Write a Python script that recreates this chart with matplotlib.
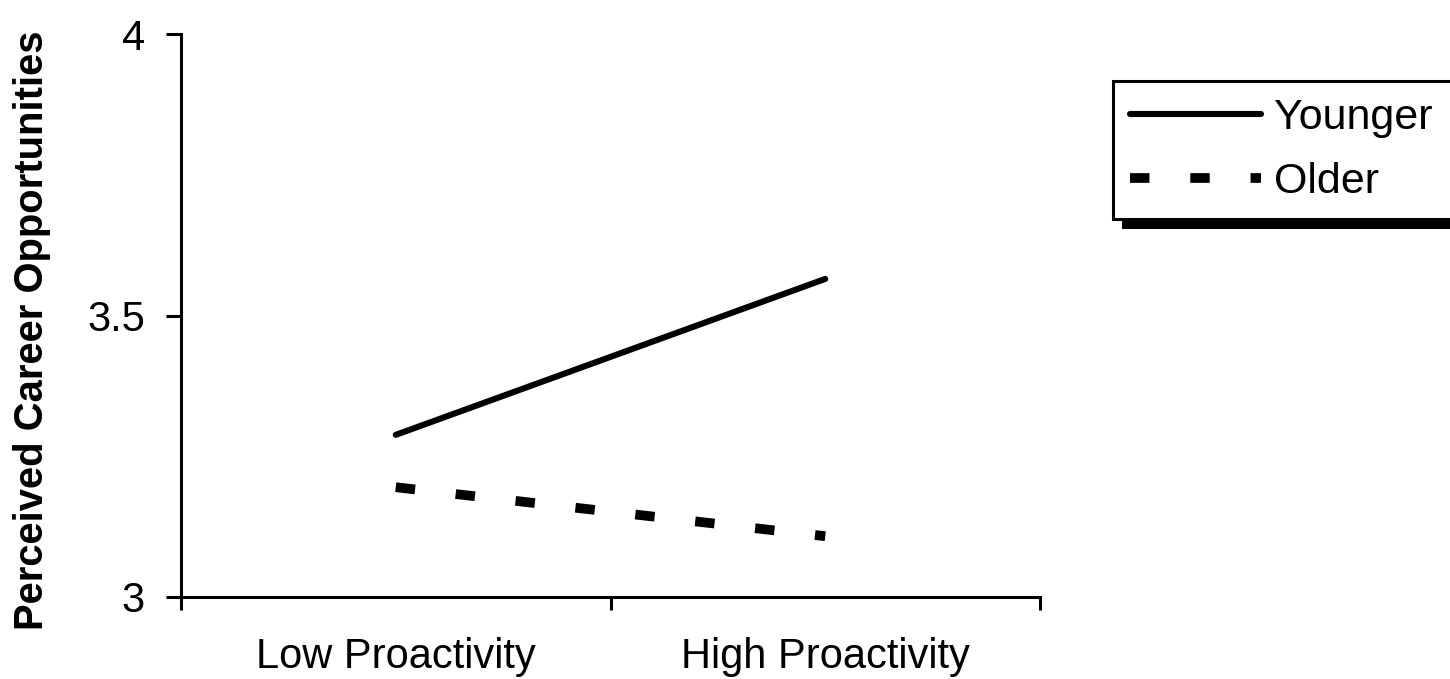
import matplotlib
matplotlib.use("Agg")
import matplotlib.pyplot as plt
from matplotlib.patches import Rectangle

# data
categories = ["Low Proactivity", "High Proactivity"]
younger = [3.288, 3.565]
older = [3.195, 3.108]
yticks = [3, 3.5, 4]
ytick_labels = ["3", "3.5", "4"]

plt.rcParams['font.family'] = ['Liberation Sans', 'DejaVu Sans']

fig = plt.figure(figsize=(14.5, 6.79), dpi=100)
ax = fig.add_axes([181/1450, 1 - 597/679, (1040-181)/1450, (597-34)/679])

xpos = [0.5, 1.5]
ax.plot(xpos, younger, color='black', lw=4.4, solid_capstyle='round', label='Younger')
ax.plot(xpos, older, color='black', lw=7, dashes=(2, 4.2), dash_capstyle='butt', label='Older')

ax.set_xlim(0, 2)
ax.set_ylim(3, 4)
ax.set_xticks([0, 1, 2])
ax.set_xticklabels([])
ax.set_xticks(xpos, minor=True)
ax.set_xticklabels(categories, minor=True, fontsize=30)
ax.tick_params(axis='x', which='minor', length=0, pad=29)
ax.tick_params(axis='x', which='major', length=9, width=2.2, direction='out')
ax.set_yticks(yticks)
ax.set_yticklabels(ytick_labels, fontsize=30)
ax.tick_params(axis='y', length=11, width=2.2, direction='out', pad=15)

for s in ['top', 'right']:
    ax.spines[s].set_visible(False)
for s in ['left', 'bottom']:
    ax.spines[s].set_linewidth(2.2)

ax.set_ylabel("Perceived Career Opportunities", fontsize=28.8, fontweight='bold')
ax.yaxis.set_label_coords(-130/859, 0.5 - 15/563)

leg = fig.legend(loc='upper left', bbox_to_anchor=(1113/1450, 1 - 215/679, 350/1450, 134/679),
                 mode='expand', fontsize=31, frameon=True, fancybox=False, framealpha=1,
                 handlelength=3.04, handletextpad=0.3, borderpad=0.4, labelspacing=0.55,
                 borderaxespad=0)
leg.get_frame().set_edgecolor('black')
leg.get_frame().set_linewidth(2.2)
leg.get_frame().set_facecolor('white')
leg.set_zorder(5)

fig.canvas.draw()
bb = leg.get_window_extent().transformed(fig.transFigure.inverted())
shadow = Rectangle((bb.x0 + 9/1450, bb.y0 - 10/679), 1.0, bb.height,
                   transform=fig.transFigure, facecolor='black', edgecolor='none', zorder=4)
fig.patches.append(shadow)

fig.savefig("out.png", dpi=100, facecolor='white')
